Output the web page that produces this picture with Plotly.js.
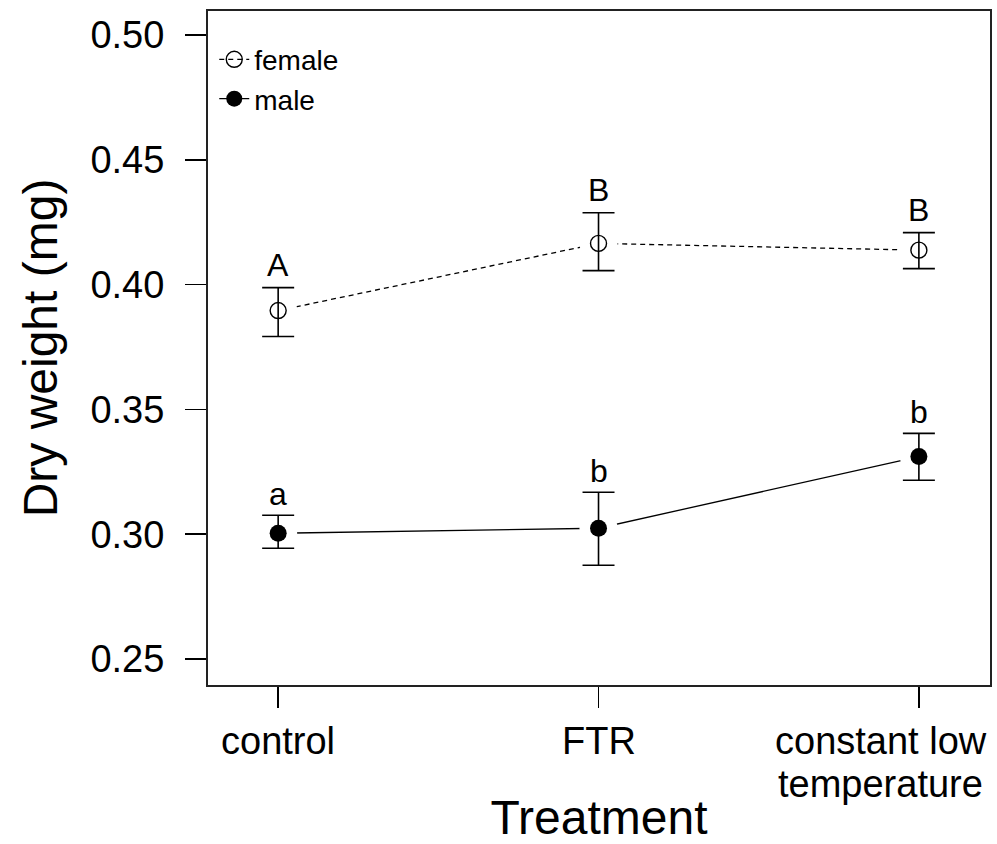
<!DOCTYPE html>
<html><head><meta charset="utf-8">
<script src="https://cdn.plot.ly/plotly-3.0.1.min.js"></script>
<style>html,body{margin:0;padding:0;background:#fff}</style>
</head><body><div id="chart" style="width:997px;height:844px"></div>
<script>
const categories = ["control", "FTR", "constant low temperature"];
const labelLine1 = ["control", "FTR", "constant low"];
const labelLine2 = ["", "", "temperature"];
const femaleMean = [0.3896, 0.4165, 0.4138];
const femaleUpper = [0.3988, 0.4288, 0.4208];
const femaleLower = [0.3792, 0.4056, 0.4064];
const maleMean = [0.3004, 0.3024, 0.3311];
const maleUpper = [0.3076, 0.3168, 0.3404];
const maleLower = [0.2944, 0.2876, 0.3216];
const femaleLetters = ["A", "B", "B"];
const maleLetters = ["a", "b", "b"];
const yTicks = [0.25, 0.30, 0.35, 0.40, 0.45, 0.50];

const xIdx = categories.map((c, i) => i);
const FONT = "Liberation Sans, Arial, sans-serif";

function errs(mean, up, lo) {
  return {
    type: 'data', symmetric: false,
    array: mean.map((m, i) => up[i] - m),
    arrayminus: mean.map((m, i) => m - lo[i]),
    color: '#000', thickness: 1.6, width: 16
  };
}

const femaleMarker = {symbol: 'circle-open', size: 16, color: '#000', line: {color: '#000', width: 1.4}};
const maleMarker = {symbol: 'circle', size: 17, color: '#000'};

const traces = [
  // connecting lines (also the legend entries)
  {x: xIdx, y: femaleMean, name: 'female', mode: 'lines+markers',
   line: {color: '#000', width: 1.3, dash: '5px,4px'}, marker: femaleMarker},
  {x: xIdx, y: maleMean, name: 'male', mode: 'lines+markers',
   line: {color: '#000', width: 1.3}, marker: maleMarker},
  // white halos leave a gap in the lines around each point
  {x: xIdx.concat(xIdx), y: femaleMean.concat(maleMean), mode: 'markers', showlegend: false,
   marker: {symbol: 'circle', size: 38, color: '#fff'}, hoverinfo: 'skip'},
  // points and error bars
  {x: xIdx, y: femaleMean, mode: 'markers', showlegend: false, marker: femaleMarker,
   error_y: errs(femaleMean, femaleUpper, femaleLower)},
  {x: xIdx, y: maleMean, mode: 'markers', showlegend: false, marker: maleMarker,
   error_y: errs(maleMean, maleUpper, maleLower)}
];

const annotations = [];
xIdx.forEach(i => {
  annotations.push({x: i, y: femaleUpper[i], text: femaleLetters[i], showarrow: false,
    yanchor: 'bottom', yshift: 3, font: {family: FONT, size: 32, color: '#000'}});
  annotations.push({x: i, y: maleUpper[i], text: maleLetters[i], showarrow: false,
    yanchor: 'bottom', yshift: 1, font: {family: FONT, size: 32, color: '#000'}});
  const shift = i === xIdx.length - 1 ? -38 : 0;
  annotations.push({x: i, y: 0, yref: 'paper', text: labelLine1[i], showarrow: false,
    yanchor: 'top', yshift: -34, xshift: shift, borderpad: 0,
    font: {family: FONT, size: 38, color: '#000'}});
  if (labelLine2[i]) {
    annotations.push({x: i, y: 0, yref: 'paper', text: labelLine2[i], showarrow: false,
      yanchor: 'top', yshift: -77, xshift: shift, borderpad: 0,
      font: {family: FONT, size: 38, color: '#000'}});
  }
});

const layout = {
  width: 997, height: 844,
  margin: {l: 208, r: 7, t: 11, b: 159},
  paper_bgcolor: '#fff', plot_bgcolor: '#fff',
  font: {family: FONT, color: '#000'},
  showlegend: true,
  legend: {x: 0.008, y: 0.965, xanchor: 'left', yanchor: 'top', bgcolor: 'rgba(0,0,0,0)',
    font: {family: FONT, size: 28, color: '#000'}, itemwidth: 30, tracegroupgap: 0},
  xaxis: {
    range: [-0.219, 2.222], tickmode: 'array', tickvals: xIdx, ticktext: categories,
    showticklabels: false,
    ticks: 'outside', ticklen: 21, tickwidth: 1.6, tickcolor: '#000',
    showline: true, mirror: true, linecolor: '#222', linewidth: 2,
    showgrid: false, zeroline: false,
    title: {text: 'Treatment', font: {family: FONT, size: 48, color: '#000'}, standoff: 93}
  },
  yaxis: {
    range: [0.2396, 0.5096], tickmode: 'array', tickvals: yTicks,
    ticktext: yTicks.map(v => v.toFixed(2)),
    ticks: 'outside', ticklen: 21, tickwidth: 1.6, tickcolor: '#000',
    ticklabelstandoff: 13,
    showline: true, mirror: true, linecolor: '#222', linewidth: 2,
    showgrid: false, zeroline: false,
    tickfont: {family: FONT, size: 38, color: '#000'},
    title: {text: 'Dry weight (mg)', font: {family: FONT, size: 48, color: '#000'}, standoff: 18}
  },
  annotations: annotations
};

Plotly.newPlot('chart', traces, layout, {displayModeBar: false, staticPlot: true});
</script>
</body></html>
